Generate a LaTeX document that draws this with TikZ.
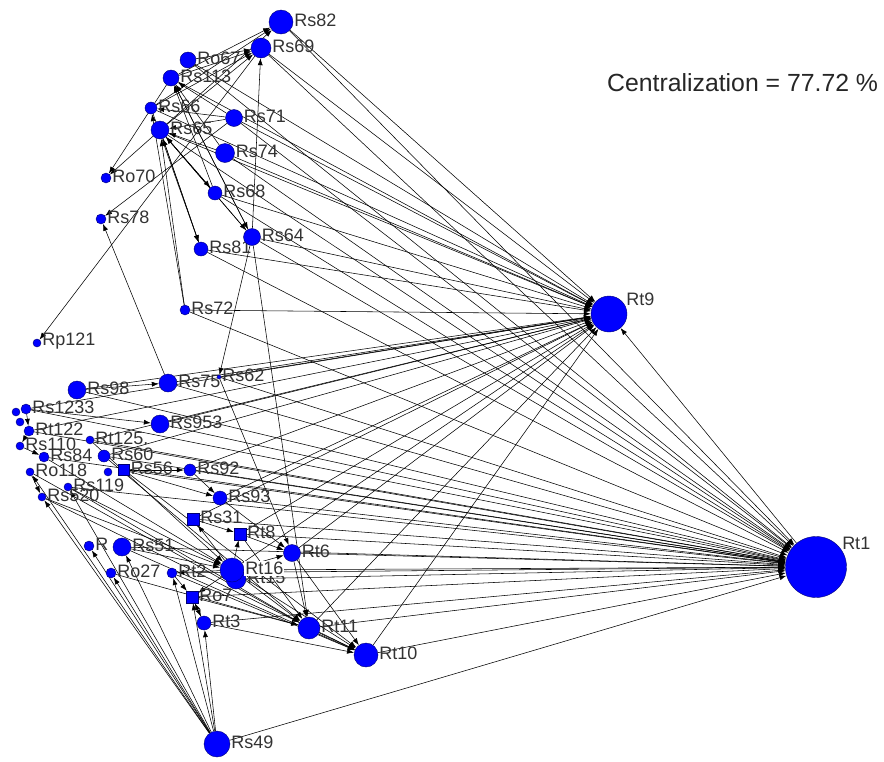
\documentclass[tikz,border=0pt]{standalone}
\usepackage{fontspec}
\setmainfont{Liberation Sans}
\usetikzlibrary{arrows.meta,backgrounds}
\tikzset{
  actor/.style={circle, draw=blue!45!black, fill=blue, inner sep=0pt, minimum size=#1},
  actor/.default=10pt,
  boxactor/.style={rectangle, draw=blue!45!black, fill=blue, inner sep=0pt, minimum size=#1},
  lbl/.style={font=\fontsize{18}{18}\selectfont, inner sep=1pt, text=black!80, yshift=1.5pt},
  tie/.style={-{Latex[length=7pt,width=5pt]}, line width=0.55pt}
}
\begin{document}
\begin{tikzpicture}[x=1pt, y=-1pt, every label/.style={lbl}, label position=east, label distance=0pt]
		\useasboundingbox (0,0) rectangle (884,761);
		% top group
		\node[actor=24pt, label=Rs82] (Rs82) at (281,22) {};
		\node[actor=20pt, label=Rs69] (Rs69) at (261,48) {};
		\node[actor=16pt, label=Ro67] (Ro67) at (188,60) {};
		\node[actor=16pt, label=Rs113] (Rs113) at (171,78) {};
		\node[actor=12pt, label=Rs66] (Rs66) at (151,108) {};
		\node[actor=18pt, label=Rs65] (Rs65) at (160,130) {};
		\node[actor=17pt, label=Rs71] (Rs71) at (234,118) {};
		\node[actor=19pt, label=Rs74] (Rs74) at (225,153) {};
		\node[actor=10pt, label=Ro70] (Ro70) at (106,178) {};
		\node[actor=14pt, label=Rs68] (Rs68) at (215,193) {};
		\node[actor=10pt, label=Rs78] (Rs78) at (101,219) {};
		\node[actor=14pt, label=Rs81] (Rs81) at (201,249) {};
		\node[actor=17pt, label=Rs64] (Rs64) at (252,237) {};
		\node[actor=10pt, label=Rs72] (Rs72) at (185,310) {};
		\node[actor=8pt, label=Rp121] (Rp121) at (37,343) {};
		%
		\node[actor=18pt, label=Rs98] (Rs98) at (77,390) {};
		\node[actor=18pt, label=Rs75] (Rs75) at (168,383) {};
		\node[actor=4pt, label=Rs62] (Rs62) at (219,377) {};
		\node[actor=8pt] (Rx1) at (16,412) {};
		\node[actor=8pt] (Rx2) at (20,422) {};
		\node[actor=10pt, label=Rs1233] (Rs123) at (26,409) {};
		\node[actor=10pt, label=Rt122] (Rt122) at (29,431) {};
		\node[actor=8pt, label=Rs110] (Rs110) at (20,446) {};
		\node[actor=8pt, label=Rt125.] (Rt125) at (90,440) {};
		\node[actor=10pt, label=Rs84] (Rs84) at (44,457) {};
		\node[actor=12pt, label=Rs60] (Rs60) at (104,456) {};
		\node[actor=8pt, label=Ro118] (Ro118) at (30,472) {};
		\node[actor=8pt] (Rx3) at (108,472) {};
		\node[boxactor=11pt, label=Rs56] (Rs56) at (124,470) {};
		\node[actor=8pt, label=Rs119] (Rs119) at (68,487) {};
		\node[actor=8pt, label=Rs520] (Rs520) at (42,497) {};
		\node[actor=18pt, label=Rs953] (Rs953) at (160,424) {};
		\node[actor=12pt, label=Rs92] (Rs92) at (190,470) {};
		\node[actor=14pt, label=Rs93] (Rs93) at (220,498) {};
		% bottom group
		\node[boxactor=12pt, label=Rs31] (Rs31) at (193,519) {};
		\node[boxactor=12pt, label=Rt8] (Rt8) at (240,534) {};
		\node[actor=17pt, label=Rt6] (Rt6) at (292,553) {};
		\node[actor=20pt, label=Rt15] (Rt15) at (236,579) {};
		\node[actor=24pt, label={[fill=white]Rt16}] (Rt16) at (232,570) {};
		\node[actor=10pt, label=R] (Rq) at (89,546) {};
		\node[actor=18pt, label=Rs51] (Rs51) at (122,547) {};
		\node[actor=10pt, label=Ro27] (Ro27) at (111,573) {};
		\node[actor=10pt, label=Rt2] (Rt2) at (172,573) {};
		\node[boxactor=12pt, label=Ro7] (Ro7) at (192,597) {};
		\node[actor=14pt, label=Rt3] (Rt3) at (204,623) {};
		\node[actor=22pt, label=Rt11] (Rt11) at (309,628) {};
		\node[actor=24pt, label=Rt10] (Rt10) at (366,655) {};
		\node[actor=26pt, label=Rs49] (Rs49) at (217,744) {};
		% hubs
		\node[actor=36pt, label={[anchor=west, label distance=3pt]40:Rt9}] (Rt9) at (609,314) {};
		\node[actor=61pt, minimum height=58pt, label={[anchor=west, label distance=3pt]42:Rt1}] (Rt1) at (816,567) {};
		\node[anchor=west, inner sep=0pt, text=black!85, font=\fontsize{24.8}{25}\selectfont] (cent) at (607,83) {Centralization = 77.72 \%};
		%
		\begin{scope}[on background layer]
			\foreach \a in {Rs82,Rs69,Ro67,Rs113,Rs66,Rs65,Rs71,Rs74,Rs68,Rs64,Rs81,Rs72,Rs75,Rs98,Rs62,Rs123,Rt122,Rs953,Rt125,Rs60,Rs92,Rs93,Rs31,Rt8,Rt6,Rt16,Rt11,Rt10}
				\draw[tie] (\a) -- (Rt9);
			\foreach \a in {Rs82,Rs69,Ro67,Rs65,Rs71,Rs74,Rs68,Rs64,Rs81,Rs72,Rs75,Rs98,Rs62,Rs123,Rt122,Rs953,Rt125,Rs84,Rs60,Rs56,Rs92,Rs93,Rs119,Rs31,Rt8,Rt6,Rt16,Rt15,Rt2,Ro7,Rt3,Rt11,Rt10,Rs49,Rs51}
				\draw[tie] (\a) -- (Rt1);
			\draw[tie] (Rt1) -- (Rt9);
			%
			\foreach \a/\b in {Ro67/Rs69,Rs113/Rs69,Rs66/Rs69,Rs65/Rs69,Rs64/Rs69,Rs65/Rs82,Rs113/Rs82,Rs66/Rs82,
				Rs71/Rs65,Rs74/Rs65,Rs68/Rs65,Rs64/Rs65,Rs81/Rs65,Rs72/Rs65,Rs72/Rs66,Rs71/Rs66,
				Rs71/Rs113,Rs74/Rs113,Rs68/Rs113,Rs64/Rs113,Rs65/Ro70,Rs113/Ro70,Rs71/Rs78,
				Rs65/Rs68,Rs65/Rs64,Rs113/Rs64,Rs66/Rs81,Rs65/Rs81,Rs64/Rs62,Rs69/Rp121,Rs64/Rt11,
				Rs75/Rs78,Rs98/Rs75,Rs123/Rs953,Rs56/Rs92,Rs56/Rs93,Rs92/Rs93,Rs62/Rt6,
				Rs123/Rt122,Rt122/Rs110,Rs110/Rs84,Ro118/Rs520,
				Rs49/Rs520,Rs49/Ro118,Rs49/Rq,Rs49/Ro27,Rs49/Rs51,Rs49/Rt2,Rs49/Ro7,Rs49/Rt3,Rs49/Rs119,
				Rs119/Rt16,Rs520/Rt16,Rs84/Rt16,Rt125/Rt16,Rs60/Rt11,Rs56/Rt10,Rs119/Rt11,Rs520/Rt10,Ro118/Rt11,
				Rt16/Rs31,Rt16/Rt8,Rt16/Rt6,Rt16/Rt2,Rt16/Ro7,Rt2/Ro7,Ro7/Rt3,Rt3/Ro7,Rt8/Rt6,Rs31/Rt8,Rs93/Rt6,
				Rt16/Rt11,Rt16/Rt10,Rt2/Rt10,Rs51/Rt10,Ro7/Rt11,Rt3/Rt10,Rt11/Rt10,Rt6/Rt10,Rt6/Rt11,Rt8/Rt11,
				Rs51/Rt16,Ro27/Rt11}
				\draw[tie] (\a) -- (\b);
		\end{scope}
	\end{tikzpicture}
\end{document}
